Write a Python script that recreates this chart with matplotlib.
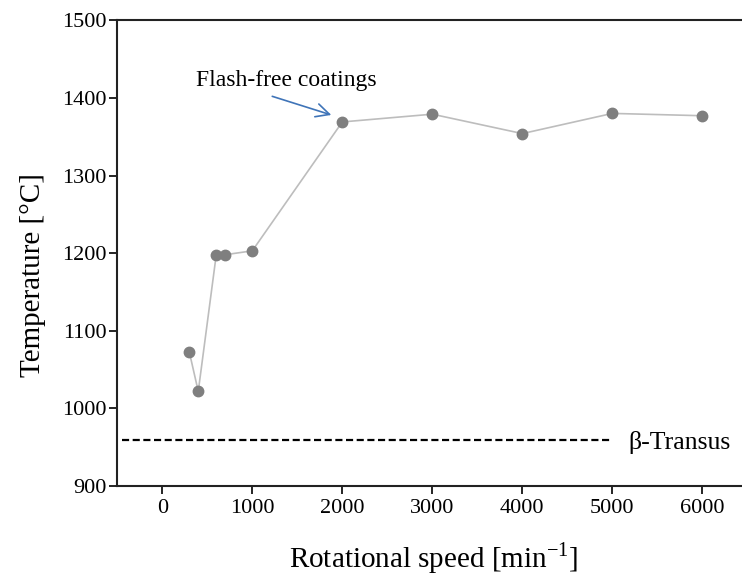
import matplotlib.pyplot as plt

# data
speed = [300, 400, 600, 700, 1000, 2000, 3000, 4000, 5000, 6000]
temperature = [1073, 1022, 1198, 1198, 1203, 1369, 1379, 1354, 1380, 1377]
beta_transus = 959
xticks = [0, 1000, 2000, 3000, 4000, 5000, 6000]
yticks = [900, 1000, 1100, 1200, 1300, 1400, 1500]

plt.rcParams['font.family'] = ['Liberation Serif', 'DejaVu Serif']

fig = plt.figure(figsize=(7.42, 5.78), dpi=100)
ax = fig.add_axes([0.158, 0.159, 0.842, 0.806])

ax.plot(speed, temperature, color='#bdbdbd', lw=1.2, zorder=2)
ax.plot(speed, temperature, 'o', color='#7f7f7f', ms=7.5, zorder=3)

# beta transus line
ax.plot([-450, 5000], [beta_transus, beta_transus], '--', color='black',
        lw=1.6, dashes=(3.2, 1.6))
ax.text(5180, beta_transus - 3, 'β-Transus', fontsize=18.5, va='center', ha='left')

# annotation
ax.text(378, 1415, 'Flash-free coatings', fontsize=17, ha='left', va='baseline')
ax.annotate('', xy=(1878, 1378), xytext=(1222, 1402),
            arrowprops=dict(arrowstyle='->', color='#3f74b8', lw=1.2,
                            shrinkA=0, shrinkB=0, mutation_scale=24))

ax.set_xlim(-500, 6440)
ax.set_ylim(900, 1500)
ax.set_xticks(xticks)
ax.set_yticks(yticks)
ax.tick_params(direction='out', length=6, width=1.2, labelsize=16)
ax.tick_params(axis='y', pad=1.5)
ax.tick_params(axis='x', pad=3)
ax.spines['right'].set_visible(False)
for s in ['left', 'bottom', 'top']:
    ax.spines[s].set_linewidth(1.5)
    ax.spines[s].set_color('#222222')

ax.set_xlabel('Rotational speed [min$^{\\mathregular{-1}}$]', fontsize=21, va='center')
ax.set_ylabel('Temperature [°C]', fontsize=21, va='center')
ax.xaxis.set_label_coords(0.507, -0.155)
ax.yaxis.set_label_coords(-0.135, 0.453)

fig.savefig('out.png', dpi=100)
